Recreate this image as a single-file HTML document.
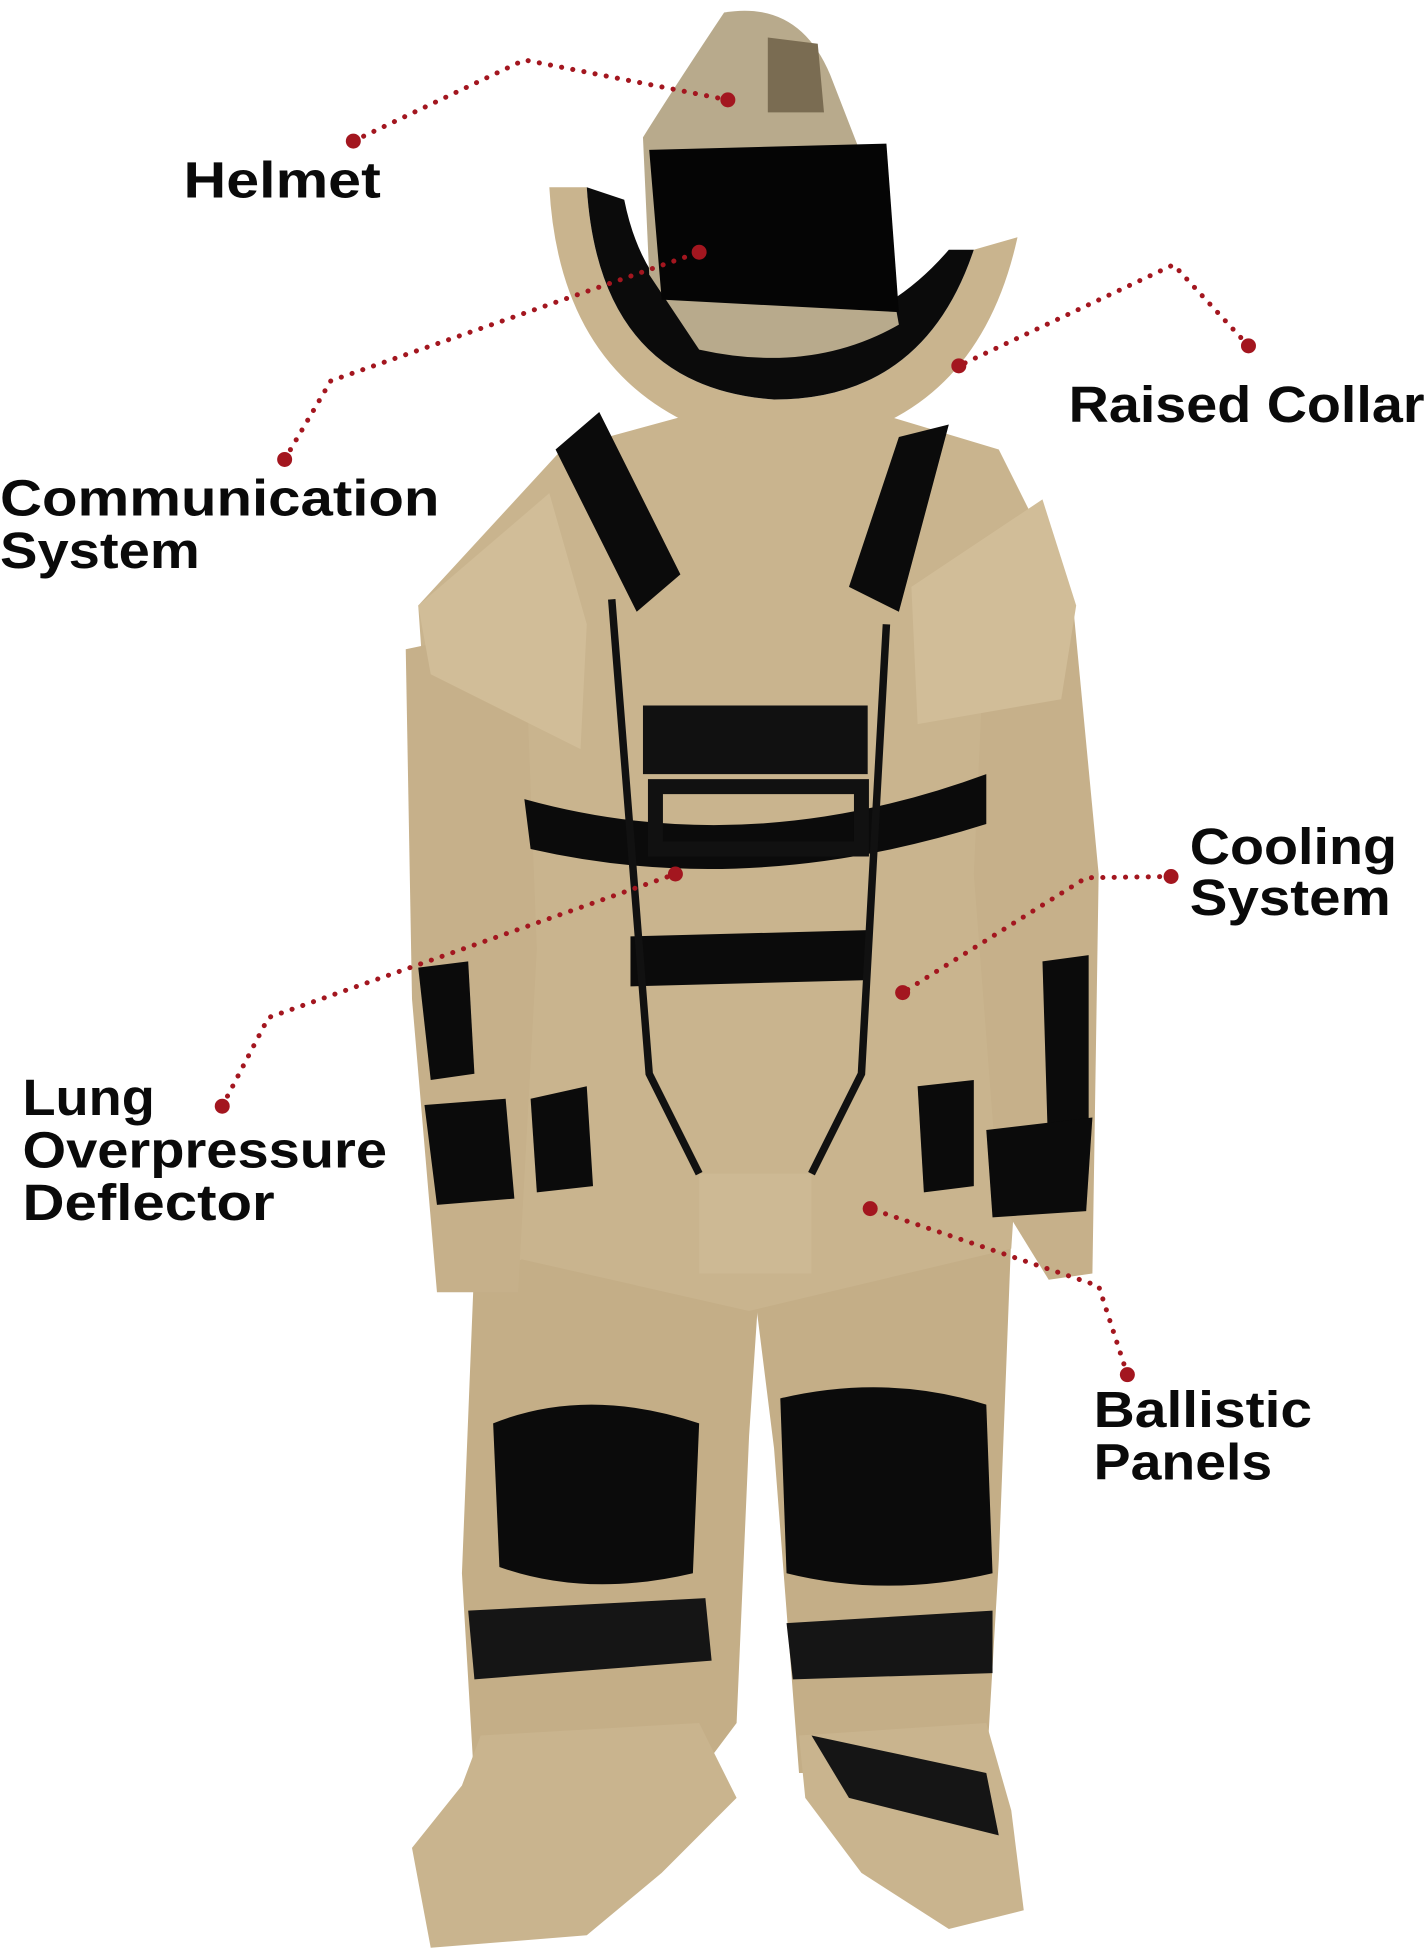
<!DOCTYPE html>
<html><head><meta charset="utf-8"><style>
html,body{margin:0;padding:0;background:#fff;}
svg{display:block;}
text{font-family:"Liberation Sans",sans-serif;font-weight:bold;fill:#0a0a0a;font-size:41px;}
.d{fill:none;stroke:#a3161f;stroke-width:4;stroke-dasharray:0.1 9;stroke-linecap:round;}
.p{fill:#a3161f;}
</style></head><body>
<svg width="1427" height="1959" viewBox="0 0 1143 1569" preserveAspectRatio="none">
<!-- suit -->
<g>
<!-- legs -->
<path d="M380,1010 L610,1000 L600,1150 L590,1380 L560,1420 L380,1430 L370,1260 Z" fill="#c4ae87"/>
<path d="M600,1000 L810,990 L800,1250 L790,1420 L640,1420 L620,1160 Z" fill="#c4ae87"/>
<path d="M385,1390 L560,1380 L590,1440 L530,1500 L470,1550 L345,1560 L330,1480 L370,1430 Z" fill="#c9b48e"/>
<path d="M640,1390 L790,1380 L810,1450 L820,1530 L760,1545 L690,1500 L645,1440 Z" fill="#c9b48e"/>
<!-- knees -->
<path d="M395,1140 Q470,1110 560,1140 L555,1260 Q470,1280 400,1255 Z" fill="#0b0b0b"/>
<path d="M625,1120 Q710,1100 790,1125 L795,1260 Q710,1280 630,1260 Z" fill="#0b0b0b"/>
<path d="M375,1290 L565,1280 L570,1330 L380,1345 Z" fill="#151515"/>
<path d="M630,1300 L795,1290 L795,1340 L635,1345 Z" fill="#151515"/>
<path d="M650,1390 L790,1420 L800,1470 L680,1440 Z" fill="#151515"/>
<!-- torso -->
<path d="M335,485 L450,360 L560,330 L700,330 L800,360 L860,480 L855,600 L830,700 L810,1000 L600,1050 L380,1000 L350,700 Z" fill="#c9b48e"/>
<!-- arms -->
<path d="M325,520 L420,500 L430,760 L415,1035 L350,1035 L330,800 Z" fill="#c6b08a"/>
<path d="M790,480 L860,490 L880,700 L875,1020 L840,1025 L800,960 L780,700 Z" fill="#c6b08a"/>
<path d="M335,775 L375,770 L380,860 L345,865 Z" fill="#0b0b0b"/>
<path d="M340,885 L405,880 L412,960 L350,965 Z" fill="#0b0b0b"/>
<path d="M835,770 L872,765 L872,930 L840,935 Z" fill="#0b0b0b"/>
<path d="M790,905 L875,895 L870,970 L795,975 Z" fill="#0b0b0b"/>
<!-- shoulders -->
<path d="M335,485 L440,395 L470,500 L465,600 L345,540 Z" fill="#d1bd98"/>
<path d="M730,470 L835,400 L862,485 L850,560 L735,580 Z" fill="#d1bd98"/>
<!-- straps -->
<path d="M445,360 L480,330 L545,460 L510,490 Z" fill="#0b0b0b"/>
<path d="M720,350 L760,340 L720,490 L680,470 Z" fill="#0b0b0b"/>
<path d="M420,640 Q600,690 790,620 L790,660 Q600,720 425,680 Z" fill="#0b0b0b"/>
<path d="M515,565 L695,565 L695,620 L515,620 Z" fill="#111"/>
<path d="M525,630 L690,630 L690,680 L525,680 Z" fill="none" stroke="#111" stroke-width="12"/>
<path d="M505,750 L695,745 L695,785 L505,790 Z" fill="#0b0b0b"/>
<path d="M425,880 L470,870 L475,950 L430,955 Z" fill="#0b0b0b"/>
<path d="M735,870 L780,865 L780,950 L740,955 Z" fill="#0b0b0b"/>
<path d="M490,480 L520,860 L560,940" fill="none" stroke="#111" stroke-width="6"/>
<path d="M710,500 L690,860 L650,940" fill="none" stroke="#111" stroke-width="6"/>
<!-- crotch flap -->
<path d="M560,940 L650,940 L650,1020 L560,1020 Z" fill="#cdb994"/>
<!-- collar -->
<path d="M440,150 Q450,330 620,360 Q780,350 815,190 L780,200 Q740,320 620,320 Q480,310 470,150 Z" fill="#c9b48e"/>
<path d="M470,150 Q480,310 620,320 Q740,320 780,200 L760,200 Q700,270 610,270 Q520,260 500,160 Z" fill="#0b0b0b"/>
<!-- helmet -->
<path d="M580,10 Q640,0 665,60 L700,150 L720,260 Q650,300 560,280 L520,220 L515,110 Q540,70 580,10 Z" fill="#b8aa8c"/>
<path d="M520,120 L710,115 L720,250 L530,240 Z" fill="#050505"/>
<path d="M615,30 L655,35 L660,90 L615,90 Z" fill="#7a6c52"/>
</g>
<!-- connectors -->
<path class="d" d="M283,113 L420,48 L583,80"/>
<path class="d" d="M228,368 L265,305 L560,202"/>
<path class="d" d="M1000,277 L940,212 L768,293"/>
<path class="d" d="M938,702 L870,703 L723,795"/>
<path class="d" d="M178,886 L215,815 L541,700"/>
<path class="d" d="M903,1101 L880,1030 L697,968"/>
<g class="p">
<circle cx="283" cy="113" r="6"/><circle cx="583" cy="80" r="6"/>
<circle cx="228" cy="368" r="6"/><circle cx="560" cy="202" r="6"/>
<circle cx="1000" cy="277" r="6"/><circle cx="768" cy="293" r="6"/>
<circle cx="938" cy="702" r="6"/><circle cx="723" cy="795" r="6"/>
<circle cx="178" cy="886" r="6"/><circle cx="541" cy="700" r="6"/>
<circle cx="903" cy="1101" r="6"/><circle cx="697" cy="968" r="6"/>
</g>
<!-- labels -->
<text x="147" y="158" textLength="158" lengthAdjust="spacingAndGlyphs">Helmet</text>
<text x="856" y="338" textLength="285" lengthAdjust="spacingAndGlyphs">Raised Collar</text>
<text x="0" y="413" textLength="352" lengthAdjust="spacingAndGlyphs">Communication</text>
<text x="0" y="455" textLength="160" lengthAdjust="spacingAndGlyphs">System</text>
<text x="953" y="692" textLength="166" lengthAdjust="spacingAndGlyphs">Cooling</text>
<text x="953" y="733" textLength="161" lengthAdjust="spacingAndGlyphs">System</text>
<text x="18" y="893" textLength="106" lengthAdjust="spacingAndGlyphs">Lung</text>
<text x="18" y="935" textLength="292" lengthAdjust="spacingAndGlyphs">Overpressure</text>
<text x="18" y="977" textLength="202" lengthAdjust="spacingAndGlyphs">Deflector</text>
<text x="876" y="1143" textLength="175" lengthAdjust="spacingAndGlyphs">Ballistic</text>
<text x="876" y="1185" textLength="143" lengthAdjust="spacingAndGlyphs">Panels</text>
</svg>
</body></html>
